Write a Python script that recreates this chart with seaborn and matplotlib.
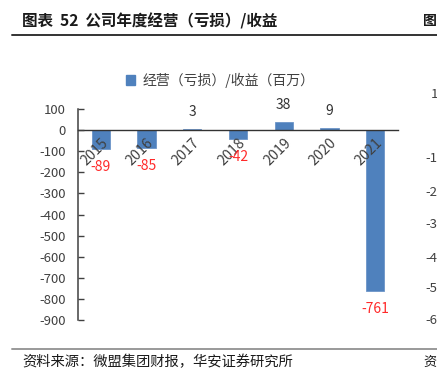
import matplotlib
matplotlib.use("Agg")
import matplotlib.pyplot as plt
import seaborn as sns
import pandas as pd
from matplotlib.lines import Line2D
from matplotlib.patches import Patch

sns.set_theme(style="white")
plt.rcParams['font.family'] = ['Noto Sans CJK SC', 'DejaVu Sans']

years = ["2015", "2016", "2017", "2018", "2019", "2020", "2021"]
values = [-89, -85, 3, -42, 38, 9, -761]
yticks = [100, 0, -100, -200, -300, -400, -500, -600, -700, -800, -900]
title = "图表  52  公司年度经营（亏损）/收益"
legend_label = "经营（亏损）/收益（百万）"
source = "资料来源：微盟集团财报，华安证券研究所"

W, H = 437, 374
fig = plt.figure(figsize=(W / 100, H / 100), dpi=100)
fig.patch.set_facecolor("white")

def fx(px):
    return px / W

def fy(py):
    return 1 - py / H

ax = fig.add_axes([fx(78), fy(320), fx(398) - fx(78), fy(109) - fy(320)])
ax.set_facecolor("none")
ax.set_axisbelow(False)

df = pd.DataFrame({"year": years, "value": values})
bar_color = "#4F81BD"
sns.barplot(data=df, x="year", y="value", color=bar_color, saturation=1,
            width=0.4, ax=ax, edgecolor="#6C95C8", linewidth=0.6)

ax.set_xlim(-0.5, len(years) - 0.5)
ax.set_ylim(-900, 100)
ax.set_yticks(yticks)
ax.set_yticklabels([str(v) for v in yticks], fontsize=9.5, color="#404040")
ax.set_xlabel("")
ax.set_ylabel("")

for s in ["top", "right"]:
    ax.spines[s].set_visible(False)
ax.spines["left"].set_color("#404040")
ax.spines["left"].set_linewidth(1.1)
ax.spines["bottom"].set_position(("data", 0))
ax.spines["bottom"].set_color("#333333")
ax.spines["bottom"].set_linewidth(1.0)

ax.tick_params(axis="y", direction="in", length=4, width=1.0, color="#404040", pad=9, left=True)
ax.tick_params(axis="x", length=0, pad=4)
ax.set_xticks(range(len(years)))
ax.set_xticklabels(years, rotation=45, ha="right", va="top", rotation_mode="anchor",
                   fontsize=10.3, color="#404040")
ax.grid(False)

for i, v in enumerate(values):
    if v < 0:
        ax.annotate(str(v), xy=(i, v), xytext=(0, -18), textcoords="offset pixels",
                    ha="center", va="center", fontsize=10, color="#FF2A2A", zorder=5)
    else:
        ax.annotate(str(v), xy=(i, v), xytext=(0, 17), textcoords="offset pixels",
                    ha="center", va="center", fontsize=10, color="#333333", zorder=5)

handle = Patch(facecolor=bar_color, edgecolor=bar_color)
fig.legend([handle], [legend_label], loc="center", bbox_to_anchor=(fx(220), fy(80)),
           frameon=False, fontsize=10, handlelength=0.7, handleheight=0.7,
           handletextpad=0.5, labelcolor="#404040")

fig.text(fx(22), fy(21), title, fontsize=11.2, fontweight="bold", color="#1a1a1a",
         ha="left", va="center")
fig.add_artist(Line2D([fx(12), fx(437)], [fy(35), fy(35)], color="#333333", lw=1.4))
fig.add_artist(Line2D([fx(12), fx(437)], [fy(349), fy(349)], color="#999999", lw=1.4))
fig.text(fx(22), fy(362), source, fontsize=10.3, color="#1a1a1a", ha="left", va="center")

# fragments of the neighbouring chart at the right edge
fig.text(fx(423), fy(21), "图", fontsize=10, fontweight="bold", color="#1a1a1a",
         ha="left", va="center")
fig.text(fx(423), fy(362), "资", fontsize=9.5, color="#1a1a1a", ha="left", va="center")
right_marks = [("1", 431, 95), ("-1", 425, 158), ("-2", 425, 192), ("-3", 425, 225),
               ("-4", 425, 258), ("-5", 425, 289), ("-6", 425, 320)]
for t, x, y in right_marks:
    fig.text(fx(x), fy(y), t, fontsize=9.5, color="#404040", ha="left", va="center")

fig.savefig("out.png", dpi=100)
